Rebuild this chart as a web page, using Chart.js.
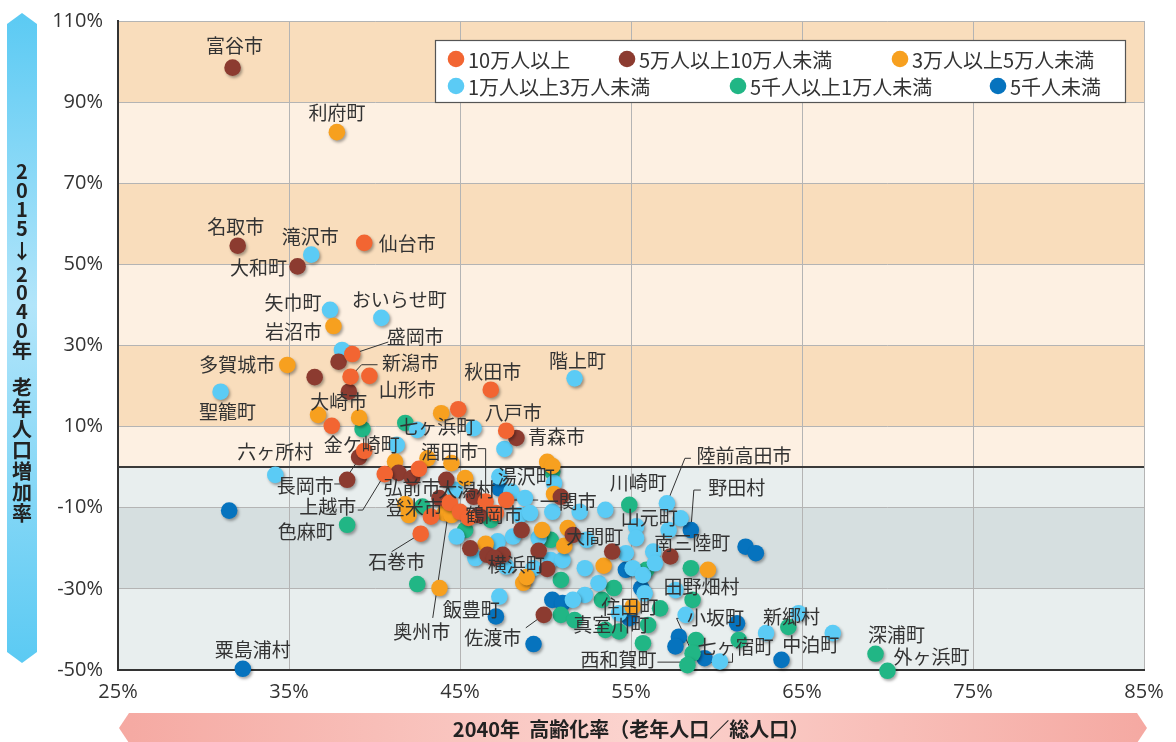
<!DOCTYPE html>
<html lang="ja">
<head>
<meta charset="utf-8">
<title>2040年 高齢化率と老年人口増加率</title>
<script src="https://cdn.jsdelivr.net/npm/chart.js@4.4.1/dist/chart.umd.min.js"></script>
<style>
  html, body { margin: 0; padding: 0; background: #fff; }
  #wrap { width: 1176px; height: 742px; }
</style>
</head>
<body>
<div id="wrap"><canvas id="chart" width="1176" height="742"></canvas></div>
<script>
"use strict";

// 人口規模別グループ
const groupLabels = ["10万人以上", "5万人以上10万人未満", "3万人以上5万人未満", "1万人以上3万人未満", "5千人以上1万人未満", "5千人未満"];

// [2040年 高齢化率 %, 2015→2040年 老年人口増加率 %]
const over100k = [
    [39.4, 55.3], [38.7, 27.9], [38.6, 22.3], [39.7, 22.5], [37.5, 10.2], [46.8, 19.1], [44.9, 14.3],
    [47.7, 9.0], [39.4, 4.0], [40.6, -1.7], [42.6, -0.4], [42.7, -16.4], [44.4, -8.8], [46.5, -8.5],
    [47.7, -8.1], [45.0, -11.0], [45.5, -12.5], [47.1, -11.3], [43.3, -12.2]
];
const from50kTo100k = [
    [31.7, 98.5], [32.0, 54.6], [35.5, 49.5], [37.9, 26.0], [36.5, 22.2], [38.5, 18.6], [39.1, 2.5],
    [38.4, -3.1], [48.3, 7.2], [41.4, -1.4], [42.2, -2.6], [44.2, -3.1], [43.8, -7.6], [45.8, -7.3],
    [46.1, -11.8], [48.6, -15.5], [45.6, -20.0], [46.6, -21.6], [47.5, -21.6], [49.6, -20.6], [50.1, -25.1],
    [51.6, -16.7], [53.9, -20.8], [57.3, -22.0], [49.9, -36.4], [50.9, -7.3], [47.0, -22.4]
];
const from30kTo50k = [
    [37.8, 82.6], [37.6, 34.8], [34.9, 25.2], [36.7, 12.9], [39.1, 12.2], [43.9, 13.3], [41.2, 1.4],
    [43.1, 2.2], [44.5, 1.0], [50.1, 1.3], [50.4, 0.3], [45.3, -2.7], [41.8, -9.1], [44.1, -11.3],
    [42.0, -11.8], [44.5, -11.8], [46.5, -18.9], [49.8, -15.5], [51.3, -15.0], [51.1, -19.4], [50.5, -6.6],
    [48.7, -28.5], [48.9, -27.1], [53.4, -24.3], [59.5, -25.3], [55.1, -34.4], [43.8, -29.8]
];
const from10kTo30k = [
    [36.3, 52.4], [37.4, 38.8], [40.4, 36.8], [38.1, 28.9], [31.0, 18.6], [51.7, 21.9], [42.5, 9.2],
    [45.8, 9.6], [47.6, 4.5], [41.3, 5.5], [34.2, -1.9], [47.3, -2.3], [44.7, -5.6], [48.0, -6.0],
    [48.8, -7.6], [48.5, -11.8], [49.1, -11.3], [50.4, -11.0], [52.0, -11.0], [53.5, -10.5], [57.1, -8.9],
    [57.9, -12.6], [57.2, -15.5], [55.3, -14.6], [55.3, -17.5], [44.8, -17.1], [47.2, -18.3], [48.1, -17.1],
    [49.6, -17.4], [50.3, -22.9], [51.0, -22.9], [52.4, -17.9], [52.3, -24.9], [54.7, -21.2], [55.1, -24.9],
    [55.7, -26.6], [56.3, -20.8], [56.4, -23.7], [52.3, -31.5], [53.1, -28.6], [51.6, -32.7], [55.8, -31.1],
    [54.3, -36.0], [57.6, -30.3], [58.2, -36.4], [47.3, -31.9], [60.2, -47.9], [62.9, -40.9], [64.8, -36.0],
    [66.8, -40.9], [45.9, -22.4], [50.5, -3.9], [49.3, -24.9], [47.7, -24.5]
];
const from5kTo10k = [
    [39.3, 9.4], [41.8, 10.9], [38.4, -14.2], [50.4, -1.1], [42.8, -9.7], [45.3, -15.5], [46.8, -13.0],
    [50.3, -17.9], [54.9, -9.3], [42.5, -28.8], [50.9, -27.8], [50.9, -36.4], [51.7, -37.7], [53.3, -32.7],
    [54.0, -29.8], [55.9, -25.3], [58.5, -24.9], [58.6, -32.7], [56.7, -34.8], [56.0, -38.9], [53.5, -40.1],
    [54.3, -40.5], [55.7, -43.4], [58.8, -42.6], [58.6, -45.9], [58.3, -48.8], [61.3, -42.6], [64.2, -39.4],
    [69.3, -46.0], [70.0, -50.2]
];
const under5k = [
    [31.5, -10.7], [32.3, -49.7], [47.3, -5.2], [58.5, -15.5], [61.7, -19.6], [62.3, -21.2], [54.7, -25.3],
    [55.6, -29.8], [54.9, -37.2], [50.4, -32.7], [51.0, -33.5], [47.1, -36.8], [49.3, -43.6], [61.2, -38.5],
    [57.8, -41.8], [57.6, -44.2], [59.3, -47.1], [63.8, -47.5]
];

// [グループ, 番号, 市町村名]
const placeNames = [
    [0, 0, "仙台市"], [0, 1, "盛岡市"], [0, 2, "新潟市"], [0, 3, "山形市"], [0, 4, "大崎市"], [0, 5, "秋田市"],
    [0, 7, "八戸市"], [0, 8, "長岡市"], [0, 9, "上越市"], [0, 10, "弘前市"], [0, 11, "石巻市"], [0, 12, "奥州市"],
    [0, 13, "酒田市"], [0, 14, "一関市"], [0, 15, "鶴岡市"],
    [1, 0, "富谷市"], [1, 1, "名取市"], [1, 2, "大和町"], [1, 8, "青森市"], [1, 17, "横浜町"], [1, 21, "大間町"],
    [1, 23, "南三陸町"], [1, 24, "佐渡市"],
    [2, 0, "利府町"], [2, 1, "岩沼市"], [2, 2, "多賀城市"], [2, 12, "登米市"], [2, 25, "住田町"],
    [3, 0, "滝沢市"], [3, 1, "矢巾町"], [3, 2, "おいらせ町"], [3, 4, "聖籠町"], [3, 5, "階上町"], [3, 6, "七ヶ浜町"],
    [3, 9, "金ケ崎町"], [3, 10, "六ヶ所村"], [3, 11, "湯沢町"], [3, 12, "大潟村"], [3, 20, "陸前高田市"],
    [3, 23, "山元町"], [3, 45, "飯豊町"], [3, 48, "新郷村"], [3, 49, "中泊町"],
    [4, 2, "色麻町"], [4, 8, "川崎町"], [4, 17, "田野畑村"], [4, 20, "真室川町"], [4, 24, "小坂町"],
    [4, 25, "西和賀町"], [4, 28, "深浦町"], [4, 29, "外ヶ浜町"],
    [5, 1, "粟島浦村"], [5, 3, "野田村"], [5, 16, "七ヶ宿町"]
];

const xTitle = "2040年  高齢化率（老年人口／総人口）";
const yTitle = "2015↓2040年 老年人口増加率";

// 見た目の設定
const groupColors = ["#F26532", "#8C3B30", "#F7A01F", "#5BCBF5", "#21B685", "#0673BE"];
const jpFont = '"Noto Sans CJK JP", "Noto Sans", sans-serif';
const tickFont = '"Open Sans", "Noto Sans", sans-serif';

// 名前ラベルの位置（点からのずれ px）
const nameOffsets = {
    "仙台市": [43, 1], "盛岡市": [63, -17], "新潟市": [60, -14], "山形市": [38, 14], "大崎市": [7, -24],
    "秋田市": [2, -18], "八戸市": [7, -18], "長岡市": [-59, 35], "上越市": [-57, 33], "弘前市": [-7, 19],
    "石巻市": [-24, 28], "奥州市": [-28, 129], "酒田市": [-36, -50], "一関市": [62, 2], "鶴岡市": [34, 3],
    "富谷市": [2, -22], "名取市": [-2, -19], "大和町": [-39, 1], "青森市": [40, -1], "横浜町": [29, 10],
    "大間町": [22, 2], "南三陸町": [22, -14], "佐渡市": [-51, 23],
    "利府町": [0, -19], "岩沼市": [-40, 6], "多賀城市": [-50, 0], "登米市": [9, 4], "住田町": [-3, 0],
    "滝沢市": [-1, -18], "矢巾町": [-37, -7], "おいらせ町": [18, -18], "聖籠町": [7, 20], "階上町": [3, -18],
    "七ヶ浜町": [20, -3], "金ケ崎町": [-35, 0], "六ヶ所村": [0, -23], "湯沢町": [27, 0], "大潟村": [12, 0],
    "陸前高田市": [77, -48], "山元町": [13, -9], "飯豊町": [-28, 13], "新郷村": [-7, 4], "中泊町": [-22, 12],
    "色麻町": [-41, 7], "川崎町": [9, -22], "田野畑村": [9, -13], "真室川町": [6, -5], "小坂町": [23, -36],
    "西和賀町": [-69, -5], "深浦町": [21, -19], "外ヶ浜町": [44, -14],
    "粟島浦村": [10, -19], "野田村": [46, -42], "七ヶ宿町": [31, -11]
};
const leaderLines = {
    "盛岡市": [[36, -12], [0, 0]],
    "新潟市": [[27, -12], [11, -12], [0, 0]],
    "長岡市": [[-30, 33], [-22, 33], [0, 0]],
    "上越市": [[-27, 36], [-22, 36], [0, 0]],
    "石巻市": [[-29, 18], [0, 0]],
    "奥州市": [[-17, 115], [0, 0]],
    "酒田市": [[-8, -53], [0, -53], [0, 0]],
    "一関市": [[32, 0], [0, 0]],
    "陸前高田市": [[24, -45], [18, -45], [0, 0]],
    "野田村": [[10, -40], [3, -40], [0, 0]],
    "佐渡市": [[-18, 13], [0, 0]],
    "小坂町": [[-10, -35], [-16, -35], [0, 0]],
    "七ヶ宿町": [[2, 4], [28, 4], [28, -5]],
    "西和賀町": [[-30, -3], [0, -3]]
};
const bands = [
    [90, 110, "#F9DDBC"], [70, 90, "#FDF0E2"], [50, 70, "#F9DDBC"], [30, 50, "#FDF0E2"], [10, 30, "#F9DDBC"],
    [0, 10, "#FDF0E2"], [-10, 0, "#E8EEEE"], [-30, -10, "#D6DFE0"], [-50, -30, "#E8EEEE"]
];
const legendSpots = [[456, 59], [627, 59], [900, 59], [456, 86], [738, 86], [998, 86]];

function toPoints(list) {
    return list.map(function (p) { return { x: p[0], y: p[1] }; });
}

function polygon(ctx, pts) {
    ctx.beginPath();
    ctx.moveTo(pts[0][0], pts[0][1]);
    for (let i = 1; i < pts.length; i++) ctx.lineTo(pts[i][0], pts[i][1]);
    ctx.closePath();
}

const pointShadow = {
    id: "pointShadow",
    beforeDatasetDraw(chart) {
        const ctx = chart.ctx;
        ctx.save();
        ctx.shadowColor = "rgba(0,0,0,0.35)";
        ctx.shadowBlur = 3;
        ctx.shadowOffsetX = 1.5;
        ctx.shadowOffsetY = 2;
    },
    afterDatasetDraw(chart) {
        chart.ctx.restore();
    }
};

const decorations = {
    id: "decorations",
    beforeDraw(chart) {
        const ctx = chart.ctx, a = chart.chartArea, y = chart.scales.y;
        bands.forEach(function (b) {
            const top = y.getPixelForValue(b[1]), bottom = y.getPixelForValue(b[0]);
            ctx.fillStyle = b[2];
            ctx.fillRect(a.left, top, a.right - a.left, bottom - top);
        });
    },
    beforeDatasetsDraw(chart) {
        const ctx = chart.ctx, a = chart.chartArea;
        const y0 = Math.round(chart.scales.y.getPixelForValue(0));
        ctx.save();
        ctx.strokeStyle = "#3a3a3a";
        ctx.lineWidth = 2;
        ctx.beginPath();
        ctx.moveTo(a.left, y0);
        ctx.lineTo(a.right, y0);
        ctx.stroke();

        ctx.strokeStyle = "#333";
        ctx.lineWidth = 1;
        placeNames.forEach(function (n) {
            const path = leaderLines[n[2]];
            if (!path) return;
            const el = chart.getDatasetMeta(n[0]).data[n[1]];
            ctx.beginPath();
            path.forEach(function (p, i) {
                if (i === 0) ctx.moveTo(el.x + p[0], el.y + p[1]);
                else ctx.lineTo(el.x + p[0], el.y + p[1]);
            });
            ctx.stroke();
        });
        ctx.restore();
    },
    afterDatasetsDraw(chart) {
        const ctx = chart.ctx;
        ctx.save();
        ctx.font = "19px " + jpFont;
        ctx.fillStyle = "#333";
        ctx.textAlign = "center";
        ctx.textBaseline = "middle";
        placeNames.forEach(function (n) {
            const el = chart.getDatasetMeta(n[0]).data[n[1]];
            const off = nameOffsets[n[2]] || [0, -20];
            ctx.fillText(n[2], el.x + off[0], el.y + off[1]);
        });
        ctx.restore();
    },
    afterDraw(chart) {
        const ctx = chart.ctx, a = chart.chartArea;
        ctx.save();

        // 凡例
        ctx.fillStyle = "#fff";
        ctx.fillRect(435.5, 40.5, 690, 62);
        ctx.strokeStyle = "#555";
        ctx.lineWidth = 1.2;
        ctx.strokeRect(435.5, 40.5, 690, 62);
        ctx.font = "20px " + jpFont;
        ctx.textBaseline = "middle";
        ctx.textAlign = "left";
        groupLabels.forEach(function (label, i) {
            const s = legendSpots[i];
            ctx.fillStyle = groupColors[i];
            ctx.beginPath();
            ctx.arc(s[0], s[1], 8.3, 0, Math.PI * 2);
            ctx.fill();
            ctx.fillStyle = "#333";
            ctx.fillText(label, s[0] + 12, s[1] + 1);
        });

        // 縦軸の帯
        const midY = (a.top + a.bottom) / 2;
        let g = ctx.createLinearGradient(0, 13, 0, 663);
        g.addColorStop(0, "#5BCAF3");
        g.addColorStop(0.45, "#B2E5FA");
        g.addColorStop(1, "#5BCAF3");
        ctx.fillStyle = g;
        polygon(ctx, [[22, 13], [37, 24], [37, 652], [22, 663], [7, 652], [7, 24]]);
        ctx.fill();

        ctx.fillStyle = "#222";
        ctx.font = "bold 20px " + jpFont;
        ctx.textAlign = "center";
        const h = function (c) {
            if (c === " ") return 16;
            if (c === "↓") return 27;
            if (/[0-9]/.test(c)) return 18.8;
            return 21;
        };
        const chars = Array.from(yTitle);
        let total = 0;
        chars.forEach(function (c, i) { if (i > 0) total += (h(chars[i - 1]) + h(c)) / 2; });
        let cy = midY - total / 2 - 3;
        chars.forEach(function (c, i) {
            if (i > 0) cy += (h(chars[i - 1]) + h(c)) / 2;
            if (c !== " ") ctx.fillText(c, 22, cy);
        });

        // 横軸の帯
        g = ctx.createLinearGradient(119, 0, 1147, 0);
        g.addColorStop(0, "#F5A9A2");
        g.addColorStop(0.5, "#FBD3CE");
        g.addColorStop(1, "#F5A9A2");
        ctx.fillStyle = g;
        polygon(ctx, [[119, 728], [129, 713], [1137, 713], [1147, 728], [1137, 743], [129, 743]]);
        ctx.fill();
        ctx.fillStyle = "#222";
        ctx.font = "bold 20px " + jpFont;
        ctx.fillText(xTitle, (a.left + a.right) / 2, 729);

        ctx.restore();
    }
};

const sources = [over100k, from50kTo100k, from30kTo50k, from10kTo30k, from5kTo10k, under5k];

new Chart(document.getElementById("chart"), {
    type: "scatter",
    data: {
        datasets: sources.map(function (list, i) {
            return {
                label: groupLabels[i],
                data: toPoints(list),
                backgroundColor: groupColors[i],
                borderWidth: 0,
                pointRadius: 8.3,
                order: i,
                clip: false
            };
        })
    },
    options: {
        responsive: false,
        animation: false,
        devicePixelRatio: 1,
        events: [],
        layout: { padding: { top: 21, right: 32, bottom: 0, left: 0 } },
        plugins: {
            legend: { display: false },
            tooltip: { enabled: false }
        },
        scales: {
            x: {
                type: "linear",
                min: 25,
                max: 85,
                ticks: {
                    stepSize: 10,
                    padding: 10,
                    color: "#333",
                    font: { size: 20, family: tickFont },
                    callback: function (v) { return v + "%"; }
                },
                grid: { color: "#B4B4B4", lineWidth: 1, drawTicks: false },
                border: { color: "#333", width: 2 },
                afterFit: function (scale) { scale.height = 72; }
            },
            y: {
                type: "linear",
                min: -50,
                max: 110,
                ticks: {
                    stepSize: 20,
                    padding: 0,
                    color: "#333",
                    font: { size: 20, family: tickFont },
                    callback: function (v) { return v + "%"; }
                },
                grid: { color: "#B4B4B4", lineWidth: 1, drawTicks: true, tickLength: 15, tickColor: "rgba(0,0,0,0)" },
                border: { color: "#333", width: 2 },
                afterFit: function (scale) { scale.width = 118; }
            }
        }
    },
    plugins: [pointShadow, decorations]
});
</script>
</body>
</html>
